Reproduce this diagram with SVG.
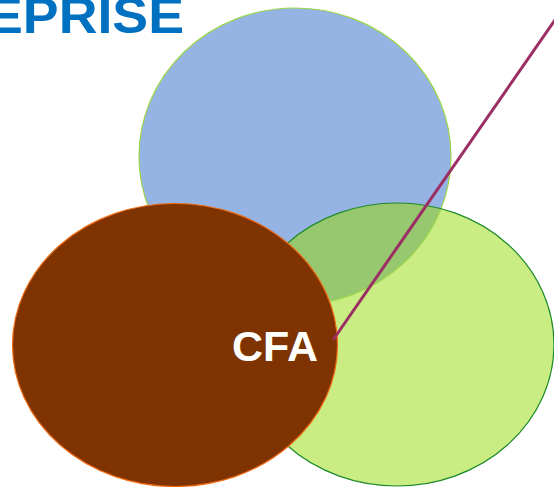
<svg xmlns="http://www.w3.org/2000/svg" width="554" height="487" viewBox="0 0 554 487">
<style>
.title{font-family:"Liberation Sans",Arial,sans-serif;font-weight:bold;fill:#0070C0}
.lbl{font-family:"Liberation Sans",Arial,sans-serif;font-weight:bold;fill:#FFFFFF}
</style>
<defs>
<clipPath id="clipBlue"><ellipse cx="295" cy="156.5" rx="156" ry="148.5"/></clipPath>
</defs>
<rect width="554" height="487" fill="#FFFFFF"/>
<text class="title" x="-13" y="33" font-size="50" textLength="197" lengthAdjust="spacingAndGlyphs">EPRISE</text>
<g id="node-blue">
<ellipse cx="295" cy="156.5" rx="156" ry="148.5" fill="#95B3E3"/>
</g>
<g id="node-green">
<ellipse cx="397" cy="344.5" rx="157" ry="141.5" fill="#C9ED82"/>
<ellipse cx="397" cy="344.5" rx="157" ry="141.5" fill="#97C76F" clip-path="url(#clipBlue)"/>
<ellipse cx="295" cy="156.5" rx="156" ry="148.5" fill="none" stroke="#9BD64E" stroke-width="1.2"/>
<ellipse cx="397" cy="344.5" rx="157" ry="141.5" fill="none" stroke="#1E8A2A" stroke-width="1.2"/>
</g>
<g id="node-cfa">
<ellipse cx="175" cy="345" rx="162.5" ry="141.5" fill="#7F3300" stroke="#F06A10" stroke-width="1.2"/>
<text class="lbl" x="318" y="361" font-size="43" text-anchor="end">CFA</text>
</g>
<g id="connectors">
<line x1="557" y1="17" x2="333" y2="340" stroke="#9B2E63" stroke-width="3"/>
</g>
</svg>
